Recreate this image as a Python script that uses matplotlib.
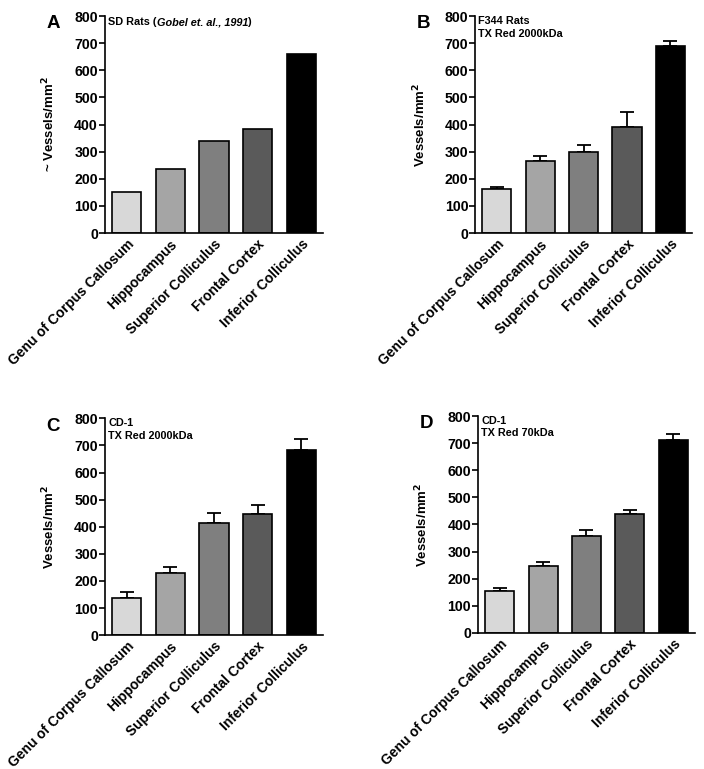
import matplotlib
matplotlib.use('Agg')
import matplotlib.pyplot as plt
import numpy as np

plt.rcParams['font.family'] = ['Liberation Sans', 'DejaVu Sans']
plt.rcParams['font.weight'] = 'bold'

regions = ['Genu of Corpus Callosum', 'Hippocampus', 'Superior Colliculus',
           'Frontal Cortex', 'Inferior Colliculus']
bar_colors = ['#d8d8d8', '#a5a5a5', '#7f7f7f', '#5a5a5a', '#000000']

# panel A (literature values, no error)
sd_rats = [150, 237, 340, 383, 660]
# panel B
f344_mean = [161, 264, 300, 390, 691]
f344_err = [7, 20, 24, 55, 16]
# panel C
cd1_2000_mean = [138, 231, 415, 447, 684]
cd1_2000_err = [20, 20, 35, 35, 38]
# panel D
cd1_70_mean = [153, 245, 358, 440, 710]
cd1_70_err = [11, 17, 22, 15, 22]

fig = plt.figure(figsize=(7.04, 7.69), dpi=100)

panels = [
    ('A', [0.149, 0.697, 0.310, 0.282], sd_rats, None, None, '~ Vessels/mm$^\\mathbf{2}$'),
    ('B', [0.675, 0.697, 0.308, 0.282], f344_mean, f344_err,
     'F344 Rats\nTX Red 2000kDa', 'Vessels/mm$^\\mathbf{2}$'),
    ('C', [0.149, 0.174, 0.310, 0.282], cd1_2000_mean, cd1_2000_err,
     'CD-1\nTX Red 2000kDa', 'Vessels/mm$^\\mathbf{2}$'),
    ('D', [0.679, 0.177, 0.308, 0.282], cd1_70_mean, cd1_70_err,
     'CD-1\nTX Red 70kDa', 'Vessels/mm$^\\mathbf{2}$'),
]

x = np.arange(len(regions))
for letter, rect, vals, errs, note, ylab in panels:
    ax = fig.add_axes(rect)
    ax.bar(x, vals, width=0.67, color=bar_colors, edgecolor='black', linewidth=1.2, zorder=2)
    if errs is not None:
        ax.errorbar(x, vals, yerr=[np.zeros(len(errs)), errs], fmt='none', ecolor='black',
                    elinewidth=1.3, capsize=5, capthick=1.3, zorder=1)
    ax.set_xlim(-0.5, 4.5)
    ax.set_ylim(0, 800)
    ax.set_yticks(range(0, 801, 100))
    ax.spines['top'].set_visible(False)
    ax.spines['right'].set_visible(False)
    ax.spines['left'].set_linewidth(1.2)
    ax.spines['bottom'].set_linewidth(1.2)
    ax.tick_params(axis='y', labelsize=10.2, width=1.2, length=4, pad=1)
    ax.tick_params(axis='x', length=0, pad=3)
    ax.set_xticks(x)
    ax.set_xticklabels(regions, rotation=45, ha='right', rotation_mode='anchor',
                       fontsize=10, fontweight='bold')
    ax.set_ylabel(ylab, fontsize=9.5, fontweight='bold', labelpad=12)
    for lbl in ax.get_yticklabels():
        lbl.set_fontweight('bold')
    fig.text(rect[0] - 0.083, rect[1] + rect[3] + 0.001, letter, fontsize=13.5,
             fontweight='bold', va='top', ha='left')
    if note is not None:
        ax.text(0.015, 1.0, note, transform=ax.transAxes, fontsize=7.8,
                fontweight='bold', va='top', ha='left', linespacing=1.3)
    else:
        # mixed upright / italic title for panel A
        fig.canvas.draw()
        r = fig.canvas.get_renderer()
        t = ax.text(0.015, 0.995, 'SD Rats (', transform=ax.transAxes, fontsize=7.8,
                    fontweight='bold', va='top', ha='left')
        for piece, style in [('Gobel et. al., 1991', 'italic'), (')', 'normal')]:
            bb = t.get_window_extent(renderer=r)
            xf = ax.transAxes.inverted().transform((bb.x1, bb.y1))[0]
            t = ax.text(xf, 0.995, piece, transform=ax.transAxes, fontsize=7.8,
                        fontweight='bold', style=style, va='top', ha='left')

fig.savefig('out.png', dpi=100)
